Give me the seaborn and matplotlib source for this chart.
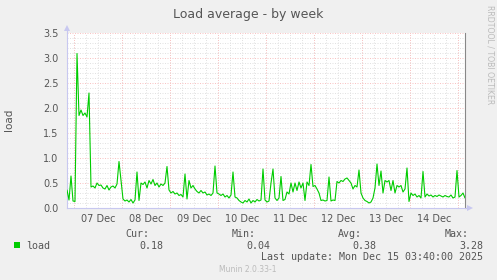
import numpy as np
import pandas as pd
import matplotlib
matplotlib.use("Agg")
import matplotlib.pyplot as plt
import matplotlib.dates as mdates
from matplotlib.ticker import MultipleLocator, FormatStrFormatter
from matplotlib.patches import Rectangle
import seaborn as sns

# ---- data (hourly samples) ----
start_time = "2025-12-06 20:30"
load = [
    0.36, 0.16, 0.64, 0.14, 0.13, 3.09, 1.85, 1.96, 1.85, 1.90,
    1.82, 2.30, 0.42, 0.44, 0.40, 0.50, 0.45, 0.46, 0.40, 0.38,
    0.45, 0.36, 0.42, 0.44, 0.40, 0.48, 0.93, 0.56, 0.18, 0.14,
    0.16, 0.12, 0.17, 0.10, 0.16, 0.72, 0.15, 0.50, 0.47, 0.52,
    0.40, 0.55, 0.48, 0.57, 0.45, 0.50, 0.42, 0.48, 0.45, 0.50,
    0.83, 0.36, 0.30, 0.33, 0.28, 0.30, 0.25, 0.27, 0.22, 0.68,
    0.18, 0.55, 0.40, 0.45, 0.38, 0.33, 0.30, 0.35, 0.30, 0.32,
    0.26, 0.28, 0.25, 0.30, 0.84, 0.30, 0.28, 0.25, 0.28, 0.22,
    0.25, 0.20, 0.26, 0.72, 0.22, 0.20, 0.15, 0.12, 0.10, 0.15,
    0.12, 0.18, 0.10, 0.15, 0.12, 0.17, 0.14, 0.16, 0.78, 0.16,
    0.12, 0.14, 0.50, 0.78, 0.20, 0.15, 0.20, 0.63, 0.15, 0.17,
    0.32, 0.28, 0.50, 0.32, 0.50, 0.35, 0.52, 0.40, 0.50, 0.15,
    0.52, 0.45, 0.87, 0.43, 0.45, 0.38, 0.30, 0.15, 0.16, 0.14,
    0.15, 0.62, 0.14, 0.16, 0.15, 0.53, 0.50, 0.55, 0.53, 0.58,
    0.60, 0.55, 0.50, 0.38, 0.45, 0.42, 0.76, 0.30, 0.20, 0.15,
    0.13, 0.10, 0.12, 0.20, 0.40, 0.88, 0.45, 0.74, 0.30, 0.55,
    0.52, 0.55, 0.35, 0.55, 0.30, 0.45, 0.42, 0.45, 0.32, 0.38,
    0.80, 0.13, 0.30, 0.25, 0.28, 0.22, 0.25, 0.20, 0.73, 0.22,
    0.28, 0.24, 0.26, 0.22, 0.25, 0.23, 0.26, 0.24, 0.22, 0.25,
    0.23, 0.22, 0.26, 0.20, 0.22, 0.75, 0.22, 0.25, 0.30, 0.20,
]
title = "Load average - by week"
ylabel = "load"
series_name = "load"
stat_names = ["Cur:", "Min:", "Avg:", "Max:"]
stat_values = ["0.18", "0.04", "0.38", "3.28"]
last_update = "Last update: Mon Dec 15 03:40:00 2025"
credit = "RRDTOOL / TOBI OETIKER"
version = "Munin 2.0.33-1"

times = pd.date_range(start_time, periods=len(load), freq="h")
df = pd.DataFrame({"time": times, "load": load})

sns.set_style("white")
plt.rcParams["font.family"] = ["DejaVu Sans"]

W, H = 497, 280
BG = "#F0F0F0"
TXT = "#555555"
fig = plt.figure(figsize=(W / 100, H / 100), dpi=100, facecolor=BG)

L, R, T, B = 67, 465, 33, 208
ax = fig.add_axes([L / W, 1 - B / H, (R - L) / W, (B - T) / H])
ax.set_facecolor("white")

sns.lineplot(data=df, x="time", y="load", ax=ax, color="#00CC00",
             linewidth=0.8, zorder=5)

ax.set_xlim(times[0], times[-1])
ax.set_ylim(0, 3.5)

# ticks
ax.xaxis.set_major_locator(mdates.HourLocator(byhour=[12]))
ax.xaxis.set_major_formatter(mdates.DateFormatter("%d %b"))
ax.xaxis.set_minor_locator(mdates.HourLocator(byhour=[0, 6, 18]))
ax.yaxis.set_major_locator(MultipleLocator(0.5))
ax.yaxis.set_major_formatter(FormatStrFormatter("%.1f"))
ax.yaxis.set_minor_locator(MultipleLocator(0.1))

ax.tick_params(axis="x", which="both", length=0, pad=4, labelsize=7, labelcolor=TXT)
ax.tick_params(axis="y", which="major", length=2, color="#C8C8EE", pad=4,
               labelsize=7, labelcolor=TXT)
ax.tick_params(axis="y", which="minor", length=1.5, color="#C8C8EE")

# grid
gray = "#E2E2E2"
red = "#F8C4C4"
dot = (0, (1, 1.5))
ax.set_axisbelow(True)
ax.xaxis.grid(True, which="both", color=gray, linestyle=dot, linewidth=0.72)
ax.yaxis.grid(True, which="minor", color=gray, linestyle=dot, linewidth=0.72)
ax.yaxis.grid(True, which="major", color=red, linestyle=dot, linewidth=0.72)
for d in pd.date_range("2025-12-07", times[-1], freq="D"):
    ax.axvline(d, color=red, linestyle=dot, linewidth=0.72, zorder=1)

ax.set_xlabel("")
ax.set_ylabel("")

# spines
axis_col = "#C8C8F0"
for s in ["left", "bottom"]:
    ax.spines[s].set_color(axis_col)
    ax.spines[s].set_linewidth(0.8)
ax.spines["top"].set_visible(False)
ax.spines["right"].set_color("#888888")
ax.spines["right"].set_linewidth(0.8)

# axis arrows
tr = ax.transAxes
ax.plot([0, 0], [1, 1.025], color=axis_col, lw=0.8, transform=tr, clip_on=False)
ax.plot([0], [1.031], marker="^", markersize=4, color=axis_col, transform=tr,
        clip_on=False, markeredgewidth=0)
ax.plot([1, 1.008], [0, 0], color=axis_col, lw=0.8, transform=tr, clip_on=False)
ax.plot([1.0126], [0], marker=">", markersize=4, color=axis_col, transform=tr,
        clip_on=False, markeredgewidth=0)

def fx(x):
    return x / W

def fy(y):
    return 1 - y / H

fig.text(fx(248), fy(18), title, ha="center", va="baseline", fontsize=9, color=TXT)
fig.text(fx(9), fy(120), ylabel, ha="center", va="center", rotation=90,
         fontsize=7.5, color=TXT)
fig.text(fx(490), fy(5), credit, ha="center", va="top", rotation=270,
         fontsize=5.6, color="#BBBBBB")

mono = "DejaVu Sans Mono"
stat_name_right = [149, 256, 362, 469]
stat_val_right = [163, 270, 376, 483]
for name, xr in zip(stat_names, stat_name_right):
    fig.text(fx(xr), fy(237), name, ha="right", va="baseline", fontsize=7.2,
             family=mono, color=TXT)
for val, xr in zip(stat_values, stat_val_right):
    fig.text(fx(xr), fy(249), val, ha="right", va="baseline", fontsize=7.2,
             family=mono, color=TXT)
fig.patches.append(Rectangle((fx(14), fy(248)), 6 / W, 6 / H, transform=fig.transFigure,
                             facecolor="#00CC00", edgecolor="none"))
fig.text(fx(26), fy(249), series_name, ha="left", va="baseline", fontsize=7.2,
         family=mono, color=TXT)
fig.text(fx(483), fy(260.5), last_update, ha="right", va="baseline", fontsize=7.2,
         family=mono, color=TXT)
fig.text(fx(248), fy(272), version, ha="center", va="baseline", fontsize=5.5,
         color="#BBBBBB")

fig.savefig("out.png", dpi=100, facecolor=BG)
